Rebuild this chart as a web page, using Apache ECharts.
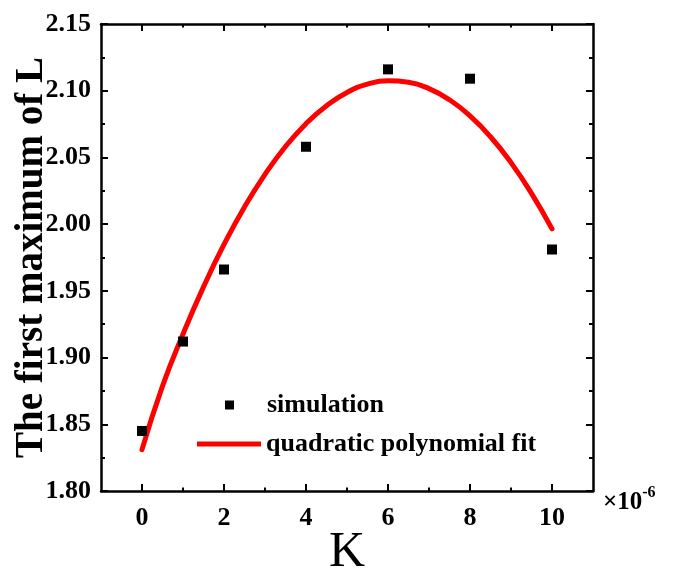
<!DOCTYPE html>
<html>
<head>
<meta charset="utf-8">
<script src="https://cdn.jsdelivr.net/npm/echarts@6/dist/echarts.min.js"></script>
<style>
html,body{margin:0;padding:0;background:#fff;}
#chart{width:678px;height:569px;}
</style>
</head>
<body>
<div id="chart"></div>
<script>
// Data
const simK = [0, 1, 2, 4, 6, 8, 10];
const simL = [1.845, 1.912, 1.966, 2.058, 2.116, 2.109, 1.981];
// Fit curve
const fitK = [0, 0.5, 1, 1.5, 2, 2.5, 3, 3.5, 4, 4.5, 5, 5.5, 6, 6.5, 7, 7.5, 8, 8.5, 9, 9.5, 10];
const fitL = [1.8310, 1.8786, 1.9176, 1.9530, 1.9848, 2.0129, 2.0373, 2.0582, 2.0753, 2.0888, 2.0987, 2.1049, 2.1074, 2.1063, 2.1016, 2.0932, 2.0811, 2.0655, 2.0461, 2.0231, 1.9965];
const xMajorTicks = [0, 2, 4, 6, 8, 10];
const xMinorTicks = [1, 3, 5, 7, 9];
const yTickLabels = ['1.80', '1.85', '1.90', '1.95', '2.00', '2.05', '2.10', '2.15'];

const SERIF = '"Liberation Serif", "Times New Roman", serif';
const chart = echarts.init(document.getElementById('chart'), null, {renderer: 'canvas'});

const axisLineStyle = {color: '#000', width: 2.5};
function xAxisDef(pos, ticks, len, showLine, showLabel, extra) {
  return Object.assign({
    type: 'value', position: pos, min: -1, max: 11, gridIndex: 0,
    axisLine: {show: showLine, onZero: false, lineStyle: axisLineStyle},
    axisTick: {show: true, inside: true, length: len, customValues: ticks, lineStyle: {color: '#000', width: 2}},
    axisLabel: {show: showLabel, customValues: ticks, margin: 14, color: '#000',
      fontFamily: SERIF, fontWeight: 'bold', fontSize: 26},
    splitLine: {show: false}
  }, extra || {});
}
function yAxisDef(pos, showLabel, extra) {
  return Object.assign({
    type: 'value', position: pos, min: 1.80, max: 2.15, interval: 0.05,
    axisLine: {show: true, onZero: false, lineStyle: axisLineStyle},
    axisTick: {show: true, inside: true, length: 7, lineStyle: {color: '#000', width: 2}},
    minorTick: {show: true, splitNumber: 2, length: 4, lineStyle: {color: '#000', width: 2}},
    axisLabel: {show: showLabel, margin: 10, color: '#000', fontFamily: SERIF, fontWeight: 'bold', fontSize: 26,
      formatter: function (v) { const s = v.toFixed(2); return yTickLabels.indexOf(s) >= 0 ? s : ''; }},
    splitLine: {show: false},
    minorSplitLine: {show: false}
  }, extra || {});
}

const option = {
  backgroundColor: '#fff',
  animation: false,
  grid: {left: 101, top: 24, width: 492, height: 467, containLabel: false, outerBoundsMode: 'none'},
  xAxis: [
    xAxisDef('bottom', xMajorTicks, 7, true, true, {
      name: 'K', nameLocation: 'middle', nameGap: 37, nameMoveOverlap: false,
      nameTextStyle: {fontFamily: SERIF, fontSize: 50, color: '#000', fontWeight: 'normal'}
    }),
    xAxisDef('bottom', xMinorTicks, 3.5, false, false, {
      name: '{a|×10}{b|-6}', nameLocation: 'end', nameGap: 10, nameMoveOverlap: false,
      nameTextStyle: {padding: [18, 0, 0, 0], rich: {
        a: {fontFamily: SERIF, fontSize: 25, fontWeight: 'bold', color: '#000', lineHeight: 30, verticalAlign: 'bottom'},
        b: {fontFamily: SERIF, fontSize: 16, fontWeight: 'bold', color: '#000', lineHeight: 30, verticalAlign: 'top'}
      }}
    }),
    xAxisDef('top', xMajorTicks, 7, true, false),
    xAxisDef('top', xMinorTicks, 3.5, false, false)
  ],
  yAxis: [
    yAxisDef('left', true, {
      name: 'The first maximum of L', nameLocation: 'middle', nameGap: 50, nameRotate: 90, nameMoveOverlap: false,
      nameTextStyle: {fontFamily: SERIF, fontSize: 39, fontWeight: 'bold', color: '#000'}
    }),
    yAxisDef('right', false)
  ],
  legend: [
    {
      data: [{name: 'simulation', icon: 'rect'}],
      left: 220, top: 387, orient: 'vertical',
      itemWidth: 9, itemHeight: 9, itemGap: 0,
      itemStyle: {color: '#000', opacity: 1},
      textStyle: {fontFamily: SERIF, fontSize: 26, fontWeight: 'bold', color: '#000', lineHeight: 26, padding: [0, 0, 0, 28]}
    },
    {
      data: [{name: 'quadratic polynomial fit', icon: 'rect'}],
      left: 192, top: 426, orient: 'vertical',
      itemWidth: 64, itemHeight: 5, itemGap: 0,
      itemStyle: {color: '#ff0000', borderWidth: 0},
      textStyle: {fontFamily: SERIF, fontSize: 26, fontWeight: 'bold', color: '#000', lineHeight: 26}
    }
  ],
  series: [
    {
      name: 'quadratic polynomial fit', type: 'line', xAxisIndex: 0, yAxisIndex: 0,
      data: fitK.map(function (k, i) { return [k, fitL[i]]; }),
      smooth: true, showSymbol: false, symbol: 'none',
      lineStyle: {color: '#ff0000', width: 5, cap: 'round', join: 'round'},
      itemStyle: {color: '#ff0000'},
      z: 2
    },
    {
      name: 'simulation', type: 'scatter', xAxisIndex: 0, yAxisIndex: 0,
      data: simK.map(function (k, i) { return [k, simL[i]]; }),
      symbol: 'rect', symbolSize: 10,
      itemStyle: {color: '#000', opacity: 1},
      z: 3
    }
  ]
};
chart.setOption(option);
</script>
</body>
</html>
